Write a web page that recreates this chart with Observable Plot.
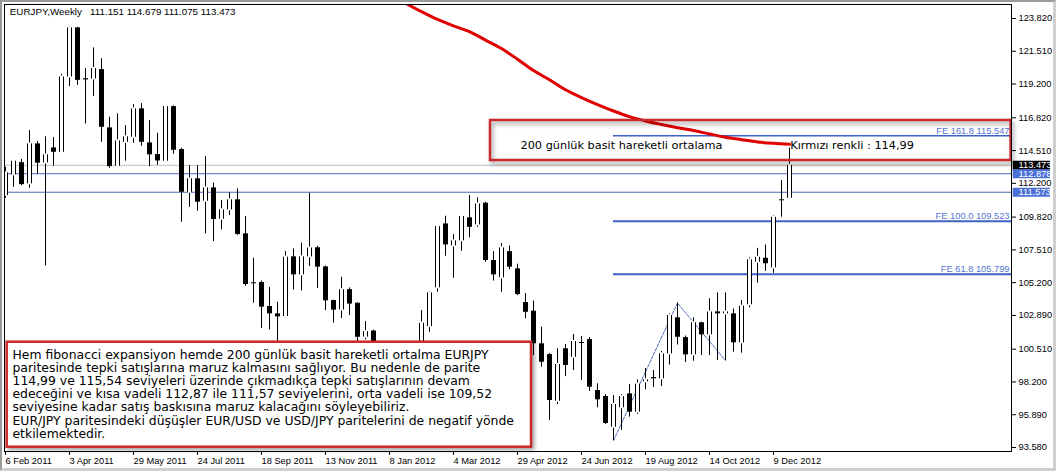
<!DOCTYPE html>
<html><head><meta charset="utf-8">
<script src="https://cdn.jsdelivr.net/npm/d3@7"></script>
<script src="https://cdn.jsdelivr.net/npm/@observablehq/plot@0.6"></script>
<style>
html,body{margin:0;padding:0;background:#fff;}
#wrap{position:relative;width:1056px;height:471px;overflow:hidden;}
#edge{position:absolute;left:0;top:0;width:1056px;height:471px;box-sizing:border-box;border-style:solid;border-width:2px 3px 3px 2px;border-color:#9a9a9a #cfcfcf #cfcfcf #9a9a9a;pointer-events:none;}
</style></head><body><div id="wrap"><div id="edge"></div></div>
<script>
// ---- data (weekly EURJPY candles, first week 6 Feb 2011) ----
const open = [111.34,112.80,113.66,112.16,114.98,113.64,114.70,114.39,119.70,123.16,
119.58,119.56,120.22,116.11,113.40,115.09,115.45,117.45,115.05,114.23,
113.76,117.61,114.58,111.57,112.52,110.94,111.88,109.67,110.33,111.04,
108.64,105.19,105.21,103.52,103.00,102.81,107.02,105.75,107.02,107.66,
106.31,103.94,103.28,104.71,103.75,101.36,101.79,100.60,98.40,97.80,
99.70,100.20,100.60,102.10,104.83,109.34,107.79,108.15,109.77,109.27,
110.80,106.76,105.54,107.39,106.17,103.80,103.19,100.89,100.13,96.84,
100.54,99.94,100.98,101.19,97.60,97.17,95.01,96.38,97.36,96.07,
98.21,98.51,98.42,100.18,102.72,101.33,100.11,102.37,101.52,103.14,
103.00,103.00,100.96,103.64,106.64,106.92,106.24,111.04,111.151];
const high = [113.33,113.80,113.88,115.92,115.14,115.48,115.43,119.89,123.25,123.20,
120.29,121.75,120.99,116.86,117.10,116.27,117.75,117.82,116.62,115.73,
117.68,117.66,114.67,113.45,113.45,114.09,112.22,110.99,111.53,111.81,
109.86,106.92,105.31,104.86,103.82,107.39,107.58,107.99,111.50,107.76,
106.37,103.96,105.58,104.83,103.78,102.46,101.85,100.90,98.80,99.90,
100.70,100.80,103.23,104.57,109.17,109.88,108.59,109.93,111.34,111.18,
110.87,107.39,107.96,107.78,106.50,104.43,103.90,102.06,100.20,100.54,
100.84,101.54,101.40,101.33,98.07,97.31,97.24,97.31,98.02,98.35,
99.15,99.01,100.35,103.00,103.76,101.44,102.72,102.41,104.06,104.48,
104.48,103.35,103.94,106.95,107.62,107.86,109.91,112.40,114.679];
const low = [111.15,111.92,112.04,111.85,112.84,106.38,113.40,114.35,119.02,119.11,
116.39,118.32,115.09,113.26,113.33,113.76,115.02,114.81,113.38,113.47,
113.73,114.25,109.46,110.51,110.23,108.64,108.10,108.92,109.93,108.54,
104.95,103.75,101.97,101.87,100.80,102.72,104.68,104.62,106.34,104.79,
103.23,102.35,102.67,102.88,101.05,101.17,100.30,98.20,97.20,97.05,
99.40,99.60,100.10,101.70,104.52,107.06,105.51,107.41,108.36,109.10,
106.64,105.31,104.52,106.10,104.29,102.65,100.06,99.24,95.48,96.61,
98.58,99.01,98.30,97.53,96.38,95.20,94.07,94.78,95.72,95.91,
97.65,97.81,97.88,99.39,100.80,99.57,99.66,100.06,100.06,99.71,
99.71,100.30,100.23,103.43,105.16,106.00,105.86,109.81,111.075];
const close = [112.94,113.76,112.11,114.98,113.62,114.21,114.39,119.70,123.16,119.46,
119.49,120.29,116.15,113.38,115.19,115.48,117.45,115.09,114.21,113.78,
117.61,114.53,111.57,112.52,110.87,111.88,109.65,110.33,111.04,108.59,
105.07,105.12,103.47,103.00,102.79,107.00,105.75,107.02,107.64,106.29,
103.92,103.26,104.70,103.69,101.35,101.75,100.60,98.40,97.80,99.70,
100.20,100.60,102.34,104.48,109.15,107.86,108.15,109.86,109.10,110.75,
106.76,105.75,107.65,106.29,104.36,103.11,100.89,99.59,96.89,99.43,
99.36,101.05,100.91,97.83,96.94,95.27,96.61,97.17,96.07,98.05,
98.35,98.42,100.18,102.88,101.35,100.11,102.37,101.52,103.13,103.00,
103.14,100.96,103.54,106.81,106.99,106.53,109.81,110.97,113.473];

// 200-period simple moving average (red), sampled at week indices
const maWeek  = [50,52,54,56,58,60,62,64,66,68,70,72,74,76,78,80,82,84,86,88,90,92,94,96,98];
const maValue = [124.90,124.30,123.75,123.30,122.90,122.30,121.70,120.95,120.15,119.50,118.80,118.25,117.75,117.30,116.90,116.60,116.35,116.12,115.92,115.68,115.45,115.28,115.12,115.02,114.95];

// Fibonacci expansion: anchor candles (low, high, low) and levels
const fiboIdx = [76, 84, 90];
const feValues = [115.547, 109.523, 105.799];
const feLabels = ["FE 161.8 115.547", "FE 100.0 109.523", "FE 61.8 105.799"];

// horizontal lines
const bidPrice = 113.473;
const hLines = [112.878, 111.573];

// axis ticks
const yTicks = [123.82,121.51,119.20,116.82,114.51,112.20,109.82,107.51,105.20,102.89,100.51,98.20,95.89,93.58];
const xTickLabels = ["6 Feb 2011","3 Apr 2011","29 May 2011","24 Jul 2011","18 Sep 2011","13 Nov 2011","8 Jan 2012","4 Mar 2012","29 Apr 2012","24 Jun 2012","19 Aug 2012","14 Oct 2012","9 Dec 2012"];

const titleText = "EURJPY,Weekly\u00a0\u00a0\u00a0111.151 114.679 111.075 113.473";
const box1Label = "200 günlük basit hareketli ortalama";
const maLabel = "Kırmızı renkli : 114,99";
const noteLines = [
"Hem fibonacci expansiyon hemde 200 günlük basit hareketli ortalma EURJPY",
"paritesinde tepki satışlarına maruz kalmasını sağlıyor. Bu nedenle de parite",
"114,99 ve 115,54 seviyeleri üzerinde çıkmadıkça tepki satışlarının devam",
"edeceğini ve kısa vadeli 112,87 ile 111,57 seviyelerini, orta vadeli ise 109,52",
"seviyesine kadar satış baskısına maruz kalacağını söyleyebiliriz.",
"EUR/JPY paritesindeki düşüşler EUR/USD ve USD/JPY paritelerini de negatif yönde",
"etkilemektedir."];

// ---- build ----
const startWeek = Date.UTC(2011, 1, 6);
const WEEK = 7 * 24 * 3600 * 1000;
const weekDate = k => new Date(startWeek + k * WEEK);
const dates = open.map((_, i) => weekDate(i));
const candles = dates.map((date, i) => ({date, o: open[i], h: high[i], l: low[i], c: close[i]}));
const bulls = candles.filter(d => d.c >= d.o);
const xDomain = [weekDate(-0.125), weekDate(125.75)];
const yDomain = [93.298, 124.807];
const xTicks = xTickLabels.map((_, i) => dates[i * 8]);
const xLabelMap = new Map(xTicks.map((d, i) => [+d, xTickLabels[i]]));

const maData = maWeek.map((w, i) => ({date: weekDate(w), v: maValue[i]}));
const fiboPts = [
  {date: dates[fiboIdx[0]], v: low[fiboIdx[0]]},
  {date: dates[fiboIdx[1]], v: high[fiboIdx[1]]},
  {date: dates[fiboIdx[2]], v: low[fiboIdx[2]]}];
const feData = feValues.map((v, i) => ({v, label: feLabels[i], x1: dates[fiboIdx[0]], x2: xDomain[1]}));

const box1 = {x1: weekDate(60.625), x2: weekDate(125.7), y1: 113.81, y2: 116.63};
const box2 = {x1: weekDate(0.21), x2: weekDate(65.75), y1: 93.60, y2: 101.00};
const box1Texts = [
  {x: weekDate(64.375), y: 114.87, text: box1Label},
  {x: weekDate(98.1), y: 114.87, text: maLabel}];
const note = {x: weekDate(0.875), y: 100.50, text: noteLines.join("\n")};

const blue = "#4a6ab4";
const feBlue = "#3f62c6";
const tagBlue = "#4a70d8";
const red = "#cc2a2a";

const chart = Plot.plot({
  width: 1056, height: 471,
  marginLeft: 4, marginRight: 45, marginTop: 4, marginBottom: 20,
  style: {fontFamily: "'Liberation Sans', Arial, sans-serif", fontSize: "9.3px", background: "#fff", color: "#000", overflow: "visible"},
  x: {type: "utc", domain: xDomain, label: null},
  y: {type: "linear", domain: yDomain, label: null},
  marks: [
    Plot.ruleY([bidPrice], {stroke: "#c0c0c0"}),
    Plot.ruleY(hLines, {stroke: blue, strokeWidth: 1}),
    Plot.ruleY(feData.slice(0, 1), {y: "v", x1: "x1", x2: "x2", stroke: feBlue, strokeWidth: 1.5}),
    Plot.ruleY(feData.slice(1), {y: "v", x1: "x1", x2: "x2", stroke: feBlue, strokeWidth: 2}),
    Plot.text(feData, {y: "v", text: "label", frameAnchor: "right", dx: -2, dy: -5, textAnchor: "end", fill: "#5575d2", fontSize: 9.3}),
    Plot.line(fiboPts, {x: "date", y: "v", stroke: blue, strokeWidth: 1, strokeDasharray: "3,1.5"}),
    // candles
    Plot.ruleX(candles, {x: "date", y1: "l", y2: "h", stroke: "#000", strokeWidth: 1, clip: true}),
    Plot.ruleX(candles, {x: "date", y1: "o", y2: "c", stroke: "#000", strokeWidth: 5, clip: true}),
    Plot.ruleX(bulls, {x: "date", y1: "o", y2: "c", stroke: "#fff", strokeWidth: 3, insetTop: 1, insetBottom: 1, clip: true}),
    // moving average
    Plot.line(maData, {x: "date", y: "v", stroke: "#e00000", strokeWidth: 3, curve: "monotone-x", clip: true}),
    // annotation box 1
    Plot.rect([box1], {x1: "x1", x2: "x2", y1: "y1", y2: "y2", fill: "none", stroke: red, strokeWidth: 2.5, imageFilter: "drop-shadow(2px 3px 2px rgba(0,0,0,0.4))"}),
    Plot.text(box1Texts, {x: "x", y: "y", text: "text", textAnchor: "start", fill: "#000", fontFamily: "'DejaVu Sans', Verdana, sans-serif", fontSize: 11.3}),
    // annotation box 2
    Plot.rect([box2], {x1: "x1", x2: "x2", y1: "y1", y2: "y2", fill: "#fff", stroke: red, strokeWidth: 2.5, imageFilter: "drop-shadow(2px 2px 2px rgba(0,0,0,0.4))"}),
    Plot.text([note], {x: "x", y: "y", text: "text", textAnchor: "start", lineAnchor: "top", lineHeight: 1.062, fill: "#000", fontFamily: "'DejaVu Sans', Verdana, sans-serif", fontSize: 12.4}),
    // axes
    Plot.axisX(xTicks, {anchor: "bottom", tickSize: 4, tickPadding: 2, textAnchor: "start", tickFormat: d => xLabelMap.get(+d), label: null}),
    Plot.axisY(yTicks, {anchor: "right", tickSize: 4, tickPadding: 3, tickFormat: d3.format(".3f"), label: null}),
    // price tags on the right axis
    Plot.ruleY([bidPrice], {stroke: "#000", strokeWidth: 9, insetLeft: 969.7, dx: 39}),
    Plot.text([bidPrice], {y: d => d, text: d => d3.format(".3f")(d), frameAnchor: "right", dx: 7, textAnchor: "start", fill: "#fff"}),
    Plot.ruleY(hLines, {stroke: tagBlue, strokeWidth: 9, insetLeft: 969.7, dx: 39}),
    Plot.text(hLines, {y: d => d, text: d => d3.format(".3f")(d), frameAnchor: "right", dx: 7, textAnchor: "start", fill: "#fff"}),
    // title
    Plot.text([titleText], {text: d => d, frameAnchor: "top-left", dx: 5.3, dy: 4, lineAnchor: "top", textAnchor: "start", fill: "#000", fontSize: 9.8}),
    Plot.frame({stroke: "#000"})
  ]
});
document.getElementById("wrap").prepend(chart);
</script>
</body></html>
